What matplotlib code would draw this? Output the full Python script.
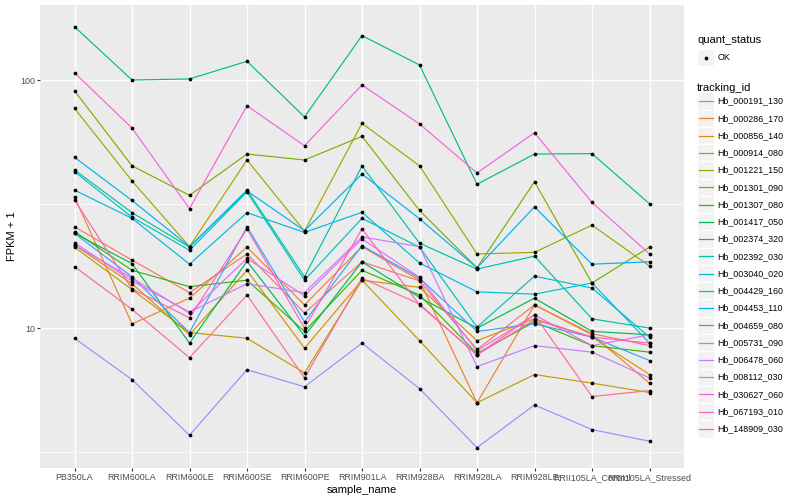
import matplotlib.pyplot as plt
from matplotlib.patches import Rectangle
from matplotlib.ticker import NullFormatter

plt.rcParams['font.family'] = ['Liberation Sans', 'DejaVu Sans']

samples = ["PB350LA", "RRIM600LA", "RRIM600LE", "RRIM600SE", "RRIM600PE", "RRIM901LA",
           "RRIM928BA", "RRIM928LA", "RRIM928LE", "RRII105LA_Control", "RRII105LA_Stressed"]

tracking_ids = ["Hb_000191_130", "Hb_000286_170", "Hb_000856_140", "Hb_000914_080", "Hb_001221_150",
                "Hb_001301_090", "Hb_001307_080", "Hb_001417_050", "Hb_002374_320", "Hb_002392_030",
                "Hb_003040_020", "Hb_004429_160", "Hb_004453_110", "Hb_004659_080", "Hb_005731_090",
                "Hb_006478_060", "Hb_008112_030", "Hb_030627_060", "Hb_067193_010", "Hb_148909_030"]

# ggplot hue palette, 20 levels
palette = ["#F8766D", "#EA8331", "#D89000", "#C09B00", "#A3A500", "#7CAE00", "#39B600", "#00BB4E",
           "#00BF7D", "#00C1A3", "#00BFC4", "#00BAE0", "#00B0F6", "#35A2FF", "#9590FF", "#C77CFF",
           "#E76BF3", "#FA62DB", "#FF62BC", "#FF6A98"]

# FPKM + 1 per sample
hb_000191_130 = [25.6, 18.8, 13.9, 19.9, 11.5, 18.5, 15.5, 8.2, 12.4, 9.5, 8.5]
hb_000286_170 = [33.8, 10.4, 13.2, 21.2, 12.4, 21.3, 15.6, 5.0, 12.4, 9.4, 6.0]
hb_000856_140 = [21.6, 15.1, 9.4, 17.1, 8.3, 15.6, 14.6, 8.9, 10.9, 9.2, 6.5]
hb_000914_080 = [21.2, 14.3, 9.6, 9.1, 6.6, 15.6, 8.9, 5.0, 6.5, 6.0, 5.5]
hb_001221_150 = [76.9, 39.2, 21.3, 47.6, 24.6, 66.9, 45.1, 19.9, 20.2, 26.0, 17.8]
hb_001301_090 = [90.5, 45.1, 34.3, 50.3, 47.6, 59.3, 29.8, 17.5, 38.9, 15.2, 21.2]
hb_001307_080 = [24.5, 17.1, 14.7, 15.6, 9.7, 17.1, 13.6, 7.9, 10.6, 8.5, 8.0]
hb_001417_050 = [24.1, 18.2, 8.7, 18.6, 9.3, 18.5, 13.3, 10.0, 13.2, 9.7, 9.4]
hb_002374_320 = [164, 100, 101, 119, 71, 151, 115, 38, 50.3, 50.5, 31.7]
hb_002392_030 = [43.4, 29.2, 21.2, 36.0, 16.1, 45.0, 22.0, 17.3, 19.5, 10.9, 10.0]
hb_003040_020 = [42.7, 28.0, 20.6, 35.4, 15.6, 27.7, 21.2, 10.1, 16.2, 14.5, 9.2]
hb_004429_160 = [36.0, 27.7, 18.1, 29.2, 24.3, 29.3, 18.3, 14.0, 13.7, 15.2, 8.7]
hb_004453_110 = [48.8, 32.7, 21.3, 35.7, 24.7, 41.8, 27.6, 17.5, 30.8, 18.1, 18.5]
hb_004659_080 = [24.1, 16.1, 9.6, 25.6, 10.6, 21.5, 15.9, 9.7, 10.4, 9.2, 7.4]
hb_005731_090 = [9.1, 6.2, 3.7, 6.8, 5.8, 8.7, 5.7, 3.3, 4.9, 3.9, 3.5]
hb_006478_060 = [22.1, 15.5, 11.6, 15.1, 13.9, 23.3, 21.3, 7.0, 8.5, 8.0, 6.3]
hb_008112_030 = [21.6, 15.9, 11.5, 19.1, 13.5, 22.9, 16.0, 8.1, 11.3, 8.5, 9.4]
hb_030627_060 = [107, 64, 30.3, 78.8, 54.3, 95.5, 66.5, 42.2, 61.3, 32.1, 19.9]
hb_067193_010 = [32.8, 14.4, 11.0, 25.1, 10.0, 25.1, 12.4, 7.8, 10.8, 9.2, 8.7]
hb_148909_030 = [17.7, 11.9, 7.6, 13.6, 6.3, 15.9, 12.5, 7.8, 11.3, 5.3, 5.6]

series = [hb_000191_130, hb_000286_170, hb_000856_140, hb_000914_080, hb_001221_150,
          hb_001301_090, hb_001307_080, hb_001417_050, hb_002374_320, hb_002392_030,
          hb_003040_020, hb_004429_160, hb_004453_110, hb_004659_080, hb_005731_090,
          hb_006478_060, hb_008112_030, hb_030627_060, hb_067193_010, hb_148909_030]

W, H = 800, 500
fig = plt.figure(figsize=(W / 100, H / 100), dpi=100)
ax = fig.add_axes([40 / W, 1 - 468 / H, (684 - 40) / W, (468 - 5) / H])
ax.set_facecolor("#EBEBEB")

x = list(range(len(samples)))
for color, vals in zip(palette, series):
    ax.plot(x, vals, color=color, lw=0.85, zorder=2)
for vals in series:
    ax.plot(x, vals, "o", color="black", ms=2.7, mew=0, zorder=3)

ax.set_yscale("log")
ax.set_xticks(x)
ax.set_xticklabels(samples)
ax.set_yticks([10, 100])
ax.set_yticklabels(["10", "100"])
ax.set_yticks([10 ** 0.5, 10 ** 1.5], minor=True)
ax.yaxis.set_minor_formatter(NullFormatter())
ax.set_ylim(2.73, 200.6)
ax.set_xlim(-0.6, len(samples) - 0.4)
ax.tick_params(which="minor", length=0)
ax.tick_params(which="major", length=2.2, width=0.8, color="#333333",
               labelsize=6.4, labelcolor="#4D4D4D", pad=1.5)
ax.grid(which="major", color="white", lw=1.0)
ax.grid(which="minor", axis="y", color="white", lw=0.5)
ax.set_axisbelow(True)
for s in ax.spines.values():
    s.set_visible(False)
ax.set_xlabel("sample_name", fontsize=8, labelpad=2)
ax.set_ylabel("FPKM + 1", fontsize=8, labelpad=2)

# legend drawn on an overlay in pixel coordinates
leg = fig.add_axes([0, 0, 1, 1], zorder=5)
leg.set_xlim(0, W)
leg.set_ylim(H, 0)
leg.axis("off")
leg.patch.set_alpha(0)

key = 17.3
kx = 697
leg.text(kx, 40, "quant_status", fontsize=8, va="center", ha="left")
leg.add_patch(Rectangle((kx, 57.5 - key / 2), key, key, fc="#F2F2F2", ec="white", lw=1))
leg.plot([kx + key / 2], [57.5], "o", color="black", ms=2.7, mew=0)
leg.text(kx + key + 3, 57.5, "OK", fontsize=6.4, va="center", ha="left")

leg.text(kx, 88, "tracking_id", fontsize=8, va="center", ha="left")
for i, (tid, color) in enumerate(zip(tracking_ids, palette)):
    yc = 101 + i * 17.26
    leg.add_patch(Rectangle((kx, yc - key / 2), key, key, fc="#F2F2F2", ec="white", lw=1))
    leg.plot([kx + 1.5, kx + key - 1.5], [yc, yc], color=color, lw=0.9)
    leg.text(kx + key + 3, yc, tid, fontsize=6.4, va="center", ha="left")

fig.savefig("out.png", dpi=100)
